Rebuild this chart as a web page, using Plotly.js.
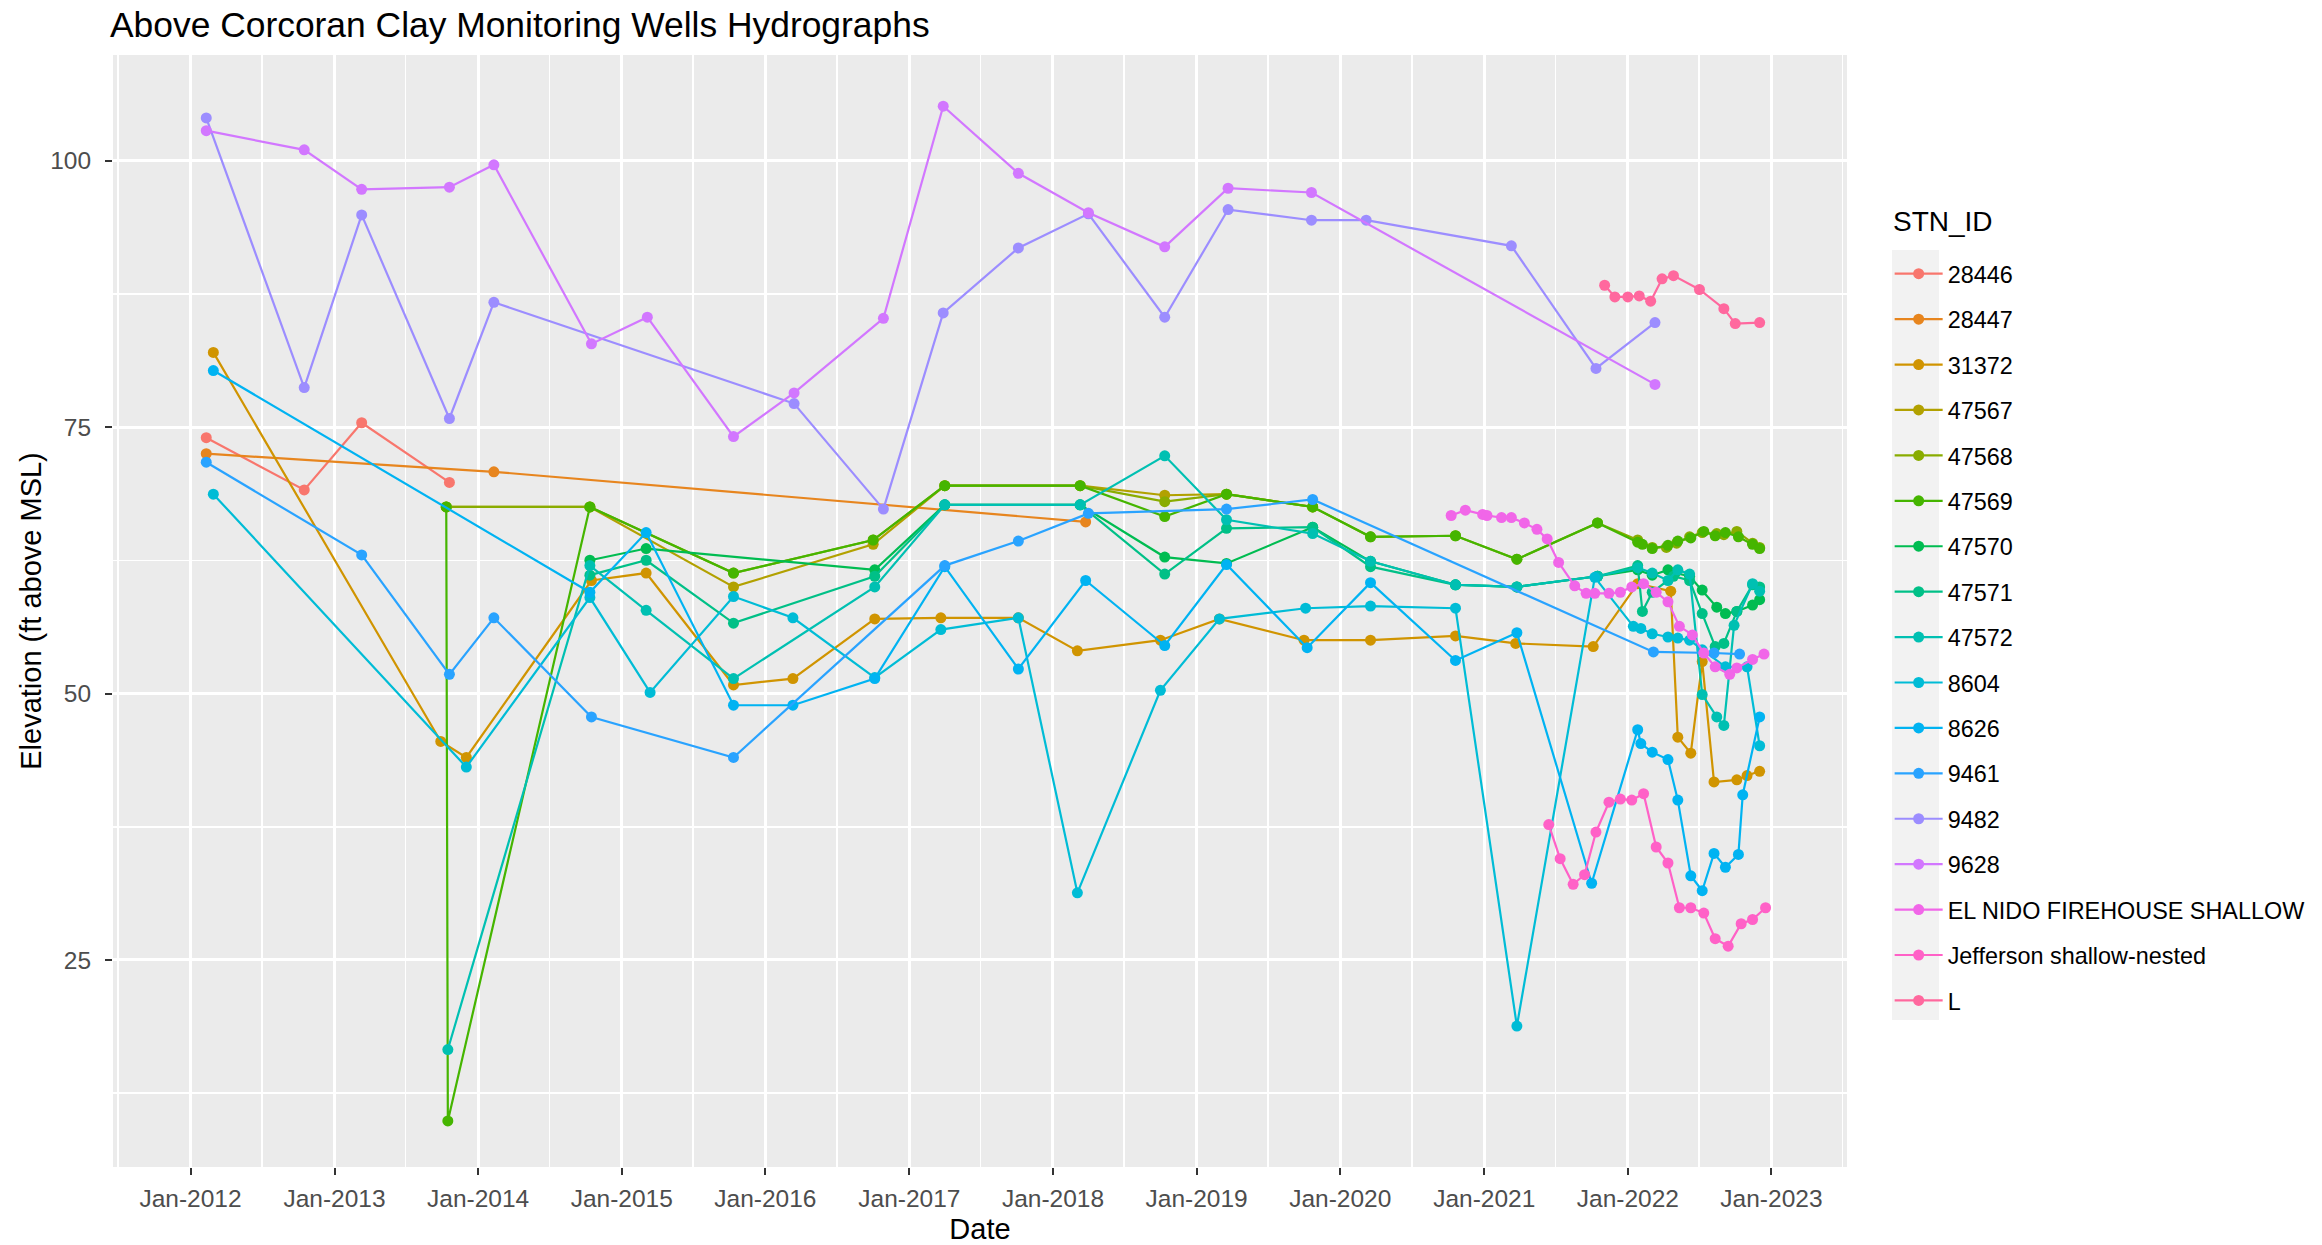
<!DOCTYPE html>
<html><head><meta charset="utf-8">
<script src="https://cdn.plot.ly/plotly-3.0.1.min.js"></script>
<style>html,body{margin:0;padding:0;background:#fff;} #chart{width:2322px;height:1245px;}</style>
</head><body><div id="chart"></div>
<script>
// ---- Data ----
const stnIds = ['28446','28447','31372','47567','47568','47569','47570','47571','47572','8604','8626','9461','9482','9628','EL NIDO FIREHOUSE SHALLOW','Jefferson shallow-nested','L'];
const stnColors = ['#F8766D','#E7851E','#D09400','#B2A100','#89AC00','#45B500','#00BC51','#00C087','#00C0B2','#00BCD6','#00B3F2','#29A3FF','#9C8DFF','#D277FF','#F166E8','#FF61C7','#FF689E'];

const d28446 = ['2012-02-10','2012-10-16','2013-03-11','2013-10-20'];
const v28446 = [74.0, 69.1, 75.4, 69.8];

const d28447 = ['2012-02-10','2014-02-10','2018-03-25'];
const v28447 = [72.5, 70.8, 66.1];

const d31372 = ['2012-02-28','2013-09-28','2013-12-02','2014-10-16','2015-03-04','2015-10-12','2016-03-11','2016-10-05','2017-03-22','2017-10-05','2018-03-04','2018-10-01','2019-02-28','2019-10-01','2020-03-18','2020-10-20','2021-03-22','2021-10-05','2022-01-26','2022-04-20','2022-05-08','2022-06-10','2022-07-09','2022-08-08','2022-10-05','2022-10-31','2022-12-02'];
const v31372 = [82.0, 45.5, 44.0, 60.6, 61.3, 50.8, 51.4, 57.0, 57.1, 57.1, 54.0, 55.0, 57.0, 55.0, 55.0, 55.4, 54.7, 54.4, 60.3, 59.6, 45.9, 44.4, 53.0, 41.7, 41.9, 42.3, 42.7];

const d47567 = ['2013-10-12','2014-10-12','2015-10-12','2016-10-01','2017-04-01','2018-03-11','2018-10-12','2019-03-18','2019-10-23'];
const v47567 = [67.5, 67.5, 60.0, 64.0, 69.5, 69.5, 68.6, 68.7, 67.5];

const d47568 = ['2013-10-12','2014-10-12','2015-10-12','2016-10-01','2017-04-01','2018-03-11','2018-10-12','2019-03-18','2019-10-23','2020-03-18','2020-10-20','2021-03-25','2021-10-16','2022-01-26','2022-03-04','2022-04-09','2022-05-05','2022-06-07','2022-07-09','2022-08-15','2022-09-02','2022-10-05','2022-11-14','2022-12-02'];
const v47568 = [67.5, 67.5, 61.3, 64.4, 69.5, 69.5, 68.0, 68.7, 67.5, 64.7, 64.8, 62.6, 66.0, 64.4, 63.7, 63.7, 64.1, 64.7, 65.1, 65.0, 64.9, 65.2, 64.1, 63.7];

const d47569 = ['2013-10-12','2013-10-16','2014-10-12','2015-10-12','2016-10-01','2017-04-01','2018-03-11','2018-10-12','2019-03-18','2019-10-23','2020-03-18','2020-10-20','2021-03-25','2021-10-16','2022-01-26','2022-02-07','2022-03-04','2022-04-13','2022-05-08','2022-06-10','2022-07-13','2022-08-11','2022-09-06','2022-10-09','2022-11-14','2022-12-02'];
const v47569 = [67.5, 9.9, 67.5, 61.3, 64.4, 69.5, 69.5, 66.6, 68.7, 67.5, 64.7, 64.8, 62.6, 66.0, 64.2, 64.0, 63.6, 63.9, 64.3, 64.6, 65.2, 64.8, 65.1, 64.7, 64.0, 63.6];

const d47570 = ['2014-10-12','2015-03-04','2016-10-05','2017-04-01','2018-03-11','2018-10-12','2019-03-18','2019-10-23','2020-03-18','2020-10-20','2021-03-25','2021-10-16','2022-01-26','2022-03-04','2022-04-13','2022-05-01','2022-06-07','2022-07-09','2022-08-15','2022-09-06','2022-10-05','2022-11-14','2022-12-02'];
const v47570 = [62.5, 63.6, 61.6, 67.7, 67.7, 62.8, 62.2, 65.6, 62.4, 60.2, 60.0, 61.0, 61.6, 61.1, 61.6, 61.3, 61.0, 59.7, 58.1, 57.5, 57.7, 58.3, 58.8];

const d47571 = ['2014-10-12','2015-03-04','2015-10-12','2016-10-05','2017-04-01','2018-03-11','2018-10-12','2019-03-18','2019-10-23','2020-03-18','2020-10-20','2021-03-25','2021-10-16','2022-01-26','2022-02-07','2022-03-04','2022-04-27','2022-06-07','2022-07-09','2022-08-11','2022-09-02','2022-10-05','2022-11-14','2022-12-02'];
const v47571 = [61.1, 62.5, 56.6, 61.0, 67.7, 67.7, 61.2, 65.5, 65.6, 61.9, 60.2, 60.0, 61.0, 62.0, 57.7, 59.5, 61.0, 60.6, 57.5, 54.4, 54.7, 57.7, 60.2, 60.0];

const d47572 = ['2013-10-16','2014-10-12','2015-03-04','2015-10-12','2016-10-05','2017-04-01','2018-03-11','2018-10-12','2019-03-18','2019-10-23','2020-03-18','2020-10-20','2021-03-25','2021-10-16','2022-01-26','2022-03-04','2022-04-13','2022-05-08','2022-06-07','2022-07-09','2022-08-15','2022-09-02','2022-09-28','2022-11-14','2022-12-02'];
const v47572 = [16.6, 62.0, 57.8, 51.4, 60.0, 67.7, 67.7, 72.3, 66.3, 65.0, 62.4, 60.2, 60.0, 61.0, 61.8, 61.3, 60.6, 61.6, 61.2, 49.9, 47.8, 47.0, 56.4, 60.3, 59.6];

const d8604 = ['2012-02-28','2013-12-02','2014-10-12','2015-03-14','2015-10-12','2016-03-11','2016-10-05','2017-03-22','2017-10-05','2018-03-04','2018-10-01','2019-02-28','2019-10-05','2020-03-18','2020-10-20','2021-03-25','2021-10-09','2022-01-15','2022-02-03','2022-03-04','2022-04-13','2022-05-08','2022-06-07','2022-07-09','2022-09-06','2022-10-31','2022-12-02'];
const v8604 = [68.7, 43.1, 59.0, 50.1, 59.1, 57.1, 51.5, 56.0, 57.1, 31.3, 50.3, 57.0, 58.0, 58.2, 58.0, 18.8, 60.9, 56.3, 56.1, 55.6, 55.3, 55.2, 55.0, 54.1, 52.5, 52.5, 45.1];

const d8626 = ['2012-02-28','2014-10-12','2015-03-04','2015-10-12','2016-03-11','2016-10-05','2017-04-01','2017-10-05','2018-03-25','2018-10-12','2019-03-18','2019-10-09','2020-03-18','2020-10-20','2021-03-25','2021-10-01','2022-01-26','2022-02-03','2022-03-04','2022-04-13','2022-05-08','2022-06-10','2022-07-09','2022-08-08','2022-09-06','2022-10-09','2022-10-20','2022-12-02'];
const v8626 = [80.3, 59.5, 65.1, 48.9, 48.9, 51.4, 61.9, 52.3, 60.6, 54.5, 62.1, 54.3, 60.4, 53.1, 55.7, 32.2, 46.6, 45.3, 44.5, 43.8, 40.0, 32.9, 31.5, 35.0, 33.7, 34.9, 40.5, 47.8];

const d9461 = ['2012-02-10','2013-03-11','2013-10-20','2014-02-10','2014-10-16','2015-10-12','2017-04-01','2017-10-05','2018-04-01','2019-03-18','2019-10-23','2022-03-07','2022-08-08','2022-10-12'];
const v9461 = [71.7, 63.0, 51.8, 57.1, 47.8, 44.0, 62.0, 64.3, 66.9, 67.3, 68.2, 53.9, 53.8, 53.7];

const d9482 = ['2012-02-10','2012-10-16','2013-03-11','2013-10-20','2014-02-10','2016-03-14','2016-10-27','2017-03-28','2017-10-05','2018-04-01','2018-10-12','2019-03-22','2019-10-20','2020-03-07','2021-03-11','2021-10-12','2022-03-11'];
const v9482 = [104.0, 78.7, 94.9, 75.8, 86.7, 77.2, 67.3, 85.7, 91.8, 95.0, 85.3, 95.4, 94.4, 94.4, 92.0, 80.5, 84.8];

const d9628 = ['2012-02-10','2012-10-16','2013-03-11','2013-10-20','2014-02-10','2014-10-16','2015-03-07','2015-10-12','2016-03-14','2016-10-27','2017-03-28','2017-10-05','2018-04-01','2018-10-12','2019-03-22','2019-10-20','2022-03-11'];
const v9628 = [102.8, 101.0, 97.3, 97.5, 99.6, 82.8, 85.3, 74.1, 78.2, 85.2, 105.1, 98.8, 95.1, 91.9, 97.4, 97.0, 79.0];

const dElNido = ['2020-10-09','2020-11-14','2020-12-28','2021-01-08','2021-02-14','2021-03-11','2021-04-13','2021-05-15','2021-06-10','2021-07-09','2021-08-19','2021-09-17','2021-10-09','2021-11-14','2021-12-13','2022-01-11','2022-02-10','2022-03-14','2022-04-13','2022-05-12','2022-06-14','2022-07-13','2022-08-11','2022-09-17','2022-10-05','2022-11-14','2022-12-13'];
const vElNido = [66.7, 67.2, 66.8, 66.7, 66.5, 66.5, 66.0, 65.4, 64.5, 62.3, 60.1, 59.4, 59.4, 59.4, 59.5, 60.0, 60.3, 59.5, 58.6, 56.3, 55.5, 53.8, 52.5, 51.8, 52.4, 53.2, 53.7];

const dJefferson = ['2021-06-14','2021-07-13','2021-08-15','2021-09-13','2021-10-12','2021-11-14','2021-12-13','2022-01-11','2022-02-10','2022-03-14','2022-04-13','2022-05-12','2022-06-10','2022-07-13','2022-08-11','2022-09-13','2022-10-16','2022-11-14','2022-12-17'];
const vJefferson = [37.7, 34.5, 32.1, 33.0, 37.0, 39.8, 40.1, 40.0, 40.6, 35.6, 34.1, 29.9, 29.9, 29.4, 27.0, 26.3, 28.4, 28.8, 29.9];

const dL = ['2021-11-03','2021-11-29','2022-01-01','2022-01-30','2022-02-28','2022-03-29','2022-04-27','2022-07-02','2022-09-02','2022-10-01','2022-12-02'];
const vL = [88.3, 87.2, 87.2, 87.3, 86.8, 88.9, 89.2, 87.9, 86.1, 84.7, 84.8];

const allDates = [d28446,d28447,d31372,d47567,d47568,d47569,d47570,d47571,d47572,d8604,d8626,d9461,d9482,d9628,dElNido,dJefferson,dL];
const allValues = [v28446,v28447,v31372,v47567,v47568,v47569,v47570,v47571,v47572,v8604,v8626,v9461,v9482,v9628,vElNido,vJefferson,vL];

const yTicks = [25, 50, 75, 100];
const labelFont = 'Liberation Sans, Arial, Helvetica, sans-serif';

const traces = stnIds.map((id, i) => ({
  type: 'scatter', mode: 'lines+markers', name: id,
  x: allDates[i], y: allValues[i],
  line: {color: stnColors[i], width: 2.2},
  marker: {color: stnColors[i], size: 11},
  legendgroup: 'g' + i,
  hoverinfo: 'x+y+name'
}));

const layout = {
  width: 2322, height: 1245,
  margin: {l: 113, r: 475, t: 55, b: 78},
  paper_bgcolor: '#FFFFFF', plot_bgcolor: '#EBEBEB',
  font: {family: labelFont, color: '#000000'},
  title: {text: 'Above Corcoran Clay Monitoring Wells Hydrographs', x: 110/2322, xref: 'container', xanchor: 'left', y: 1 - 25/1245, yref: 'container', yanchor: 'middle', font: {size: 35.4, color: '#000000', family: labelFont}},
  xaxis: {
    type: 'date', range: ['2011-06-18', '2023-07-12'],
    tick0: '2012-01-01', dtick: 'M12', tickformat: '%b-%Y',
    showgrid: true, gridcolor: '#FFFFFF', gridwidth: 3,
    minor: {tick0: '2011-07-01', dtick: 'M12', showgrid: true, gridcolor: '#FFFFFF', gridwidth: 1.5, ticks: ''},
    ticks: 'outside', ticklen: 7, tickwidth: 2, tickcolor: '#333333',
    ticklabelstandoff: 3,
    tickfont: {size: 24.5, color: '#4D4D4D', family: labelFont},
    zeroline: false, showline: false, automargin: false,
    title: {text: 'Date', font: {size: 29, color: '#000000', family: labelFont}, standoff: 8}
  },
  yaxis: {
    range: [5.58, 109.9], tickvals: yTicks, ticktext: yTicks.map(String),
    showgrid: true, gridcolor: '#FFFFFF', gridwidth: 3,
    minor: {tick0: 12.5, dtick: 25, showgrid: true, gridcolor: '#FFFFFF', gridwidth: 1.5, ticks: ''},
    ticks: 'outside', ticklen: 7, tickwidth: 2, tickcolor: '#333333',
    ticklabelstandoff: 9,
    tickfont: {size: 24.5, color: '#4D4D4D', family: labelFont},
    zeroline: false, showline: false, automargin: false,
    title: {text: 'Elevation (ft above MSL)', font: {size: 29, color: '#000000', family: labelFont}, standoff: 0}
  },
  legend: {
    font: {size: 23.4, color: '#000000', family: labelFont},
    x: 1.0246, xanchor: 'left', y: (1167 - 252) / 1112, yanchor: 'top',
    bgcolor: 'rgba(0,0,0,0)', borderwidth: 0,
    traceorder: 'grouped', tracegroupgap: 12, itemwidth: 48
  },
  annotations: [{
    text: 'STN_ID', xref: 'paper', yref: 'paper', showarrow: false,
    x: (1891 - 113) / 1734, xanchor: 'left', y: (1167 - 222) / 1112, yanchor: 'middle',
    font: {size: 28, color: '#000000', family: labelFont}
  }],
  shapes: [{
    type: 'rect', xref: 'paper', yref: 'paper', layer: 'below',
    x0: (1892-113)/1734, x1: (1939-113)/1734,
    y0: (1167-1020)/1112, y1: (1167-250)/1112,
    fillcolor: '#F2F2F2', line: {width: 0}
  }],
  showlegend: true
};

Plotly.newPlot('chart', traces, layout, {displayModeBar: false, staticPlot: true});
</script></body></html>
